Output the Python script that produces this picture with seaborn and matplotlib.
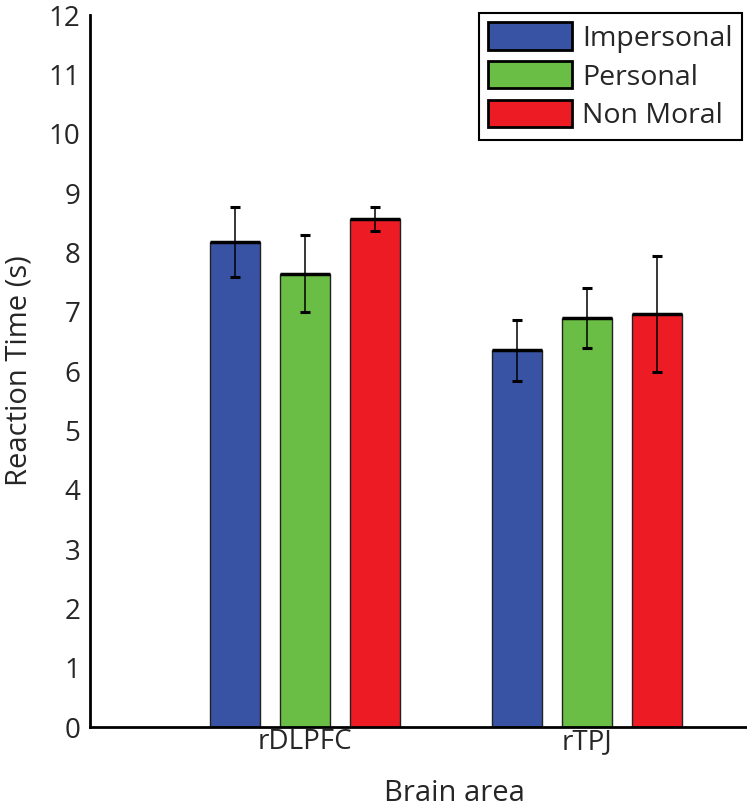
import numpy as np
import pandas as pd
import matplotlib
matplotlib.use('Agg')
import matplotlib.pyplot as plt
import seaborn as sns

# values
areas = ['rDLPFC', 'rTPJ']
conditions = ['Impersonal', 'Personal', 'Non Moral']
mean_rt = {
    'Impersonal': [8.17, 6.35],
    'Personal': [7.64, 6.89],
    'Non Moral': [8.56, 6.96],
}
err_rt = {
    'Impersonal': [0.59, 0.51],
    'Personal': [0.65, 0.51],
    'Non Moral': [0.20, 0.98],
}
colors = ['#3953A4', '#6BBE45', '#ED1C24']

rows = []
for c in conditions:
    for i, a in enumerate(areas):
        rows.append({'area': a, 'cond': c, 'rt': mean_rt[c][i], 'err': err_rt[c][i]})
df = pd.DataFrame(rows)

sns.set_style('white')
plt.rcParams['font.family'] = ['Open Sans', 'DejaVu Sans']

fig = plt.figure(figsize=(7.47, 8.07), dpi=100)
ax = fig.add_axes([0.1205, 0.0991, 0.8795, 0.8823])

sns.barplot(data=df, x='area', y='rt', hue='cond', order=areas, hue_order=conditions,
            palette=colors, width=0.745, gap=0.29, errorbar=None,
            edgecolor='#222222', linewidth=1.0, saturation=1, ax=ax)

# error bars and thick top edge, placed from the drawn bars
for container, c in zip(ax.containers, conditions):
    for patch, i in zip(container.patches, range(len(areas))):
        xc = patch.get_x() + patch.get_width() / 2
        top = patch.get_height()
        ax.plot([patch.get_x(), patch.get_x() + patch.get_width()], [top, top],
                color='black', lw=2.5, solid_capstyle='butt', zorder=3)
        ax.errorbar(xc, top, yerr=err_rt[c][i], color='black', elinewidth=1.1,
                    capsize=3.5, capthick=2.2, zorder=4)

ax.set_xlim(-0.762, 1.567)
ax.set_ylim(0, 12)
ax.set_yticks(range(0, 13))
ax.tick_params(axis='y', length=0, labelsize=20, pad=7)
ax.tick_params(axis='x', length=0, labelsize=20, pad=1)
ax.set_xlabel('Brain area', fontsize=21)
ax.set_ylabel('Reaction Time (s)', fontsize=21)
ax.xaxis.set_label_coords(0.554, -0.073)
ax.yaxis.set_label_coords(-0.086, 0.5)
ax.xaxis.label.set_va('top')
sns.despine(ax=ax)
for s in ['left', 'bottom']:
    ax.spines[s].set_linewidth(2)
    ax.spines[s].set_color('black')

leg = ax.legend(loc='upper right', bbox_to_anchor=(0.993, 1.003), borderaxespad=0,
                fontsize=20.5, handlelength=2.95, handleheight=1.1, labelspacing=0.3,
                handletextpad=0.35, borderpad=0.33, fancybox=False, framealpha=1)
leg.get_frame().set_edgecolor('black')
leg.get_frame().set_linewidth(1.5)
for h in leg.legend_handles:
    h.set_edgecolor('black')
    h.set_linewidth(2)

fig.savefig('out.png', dpi=100)
